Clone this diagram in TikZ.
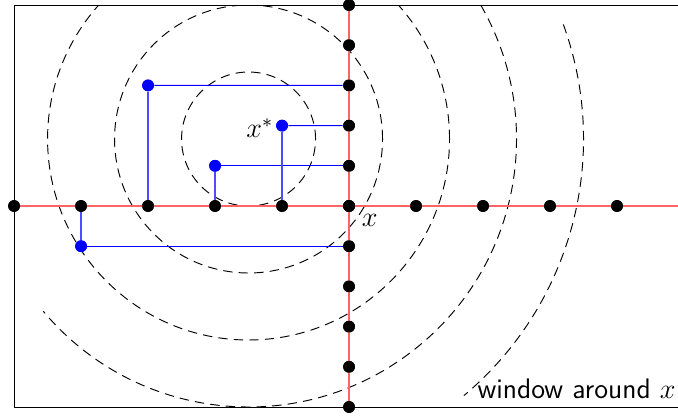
\documentclass[tikz,border=0pt]{standalone}
\usepackage{xcolor}
\usepackage{tikz}
\usetikzlibrary{positioning, calc}
\definecolor{axisred}{RGB}{255, 100, 100}
\definecolor{walkblue}{RGB}{0, 0, 255}
\definecolor{lightwalk}{RGB}{77, 77, 255}

\begin{document}
\begin{tikzpicture}[
  dot/.style={circle, fill=black, inner sep=0pt, minimum size=5pt},
  bluedot/.style={circle, fill=walkblue, inner sep=0pt, minimum size=5pt},
  axis/.style={draw=axisred, line width=0.7pt},
  level/.style={draw=black, dash pattern=on 4pt off 2.6pt},
  hwalk/.style={draw=walkblue, line width=0.45pt},
  vwalk/.style={draw=lightwalk, line width=0.6pt}
]
  \useasboundingbox (-5.21,-3.134) rectangle (4.91,3.075);

  % window
  \draw (-5,-3) rectangle (5,3);
  \coordinate (c) at (-1.5,1);
  \coordinate (east) at (5,0);
  \coordinate (corner) at (5,-3);

  % level sets around x*
  \begin{scope}
    \clip (-5,-3) rectangle (5,3);
    \draw[level] (c) circle (1);
    \draw[level] (c) circle (2);
    \draw[level] (c) circle (3);
    \draw[level] ($(c)+(40:4)$) arc[start angle=40, end angle=-140, radius=4];
    \draw[level] ($(c)+(20:5)$) arc[start angle=20, end angle=-50, radius=5];
  \end{scope}

  % coordinate axes through x
  \foreach \i in {-5,...,4}
    \node[dot] (h\i) at (\i,0) {};
  \foreach \j in {-5,...,5}
    \node[dot] (v\j) at (0,0.6*\j) {};

  % sampled points
  \node[bluedot] (p1) at (-3,1.8) {};
  \node[bluedot] (xs) at (-1,1.2) {};
  \node[bluedot] (p3) at (-2,0.6) {};
  \node[bluedot] (p4) at (-4,-0.6) {};

  \path[hwalk] (p1) -- (v3);
  \path[hwalk] (xs) -- (v2);
  \path[hwalk] (p3) -- (v1);
  \path[hwalk] (p4) -- (v-1);
  \path[vwalk] (p1) -- (h-3);
  \path[vwalk] (xs) -- (h-1);
  \path[vwalk] (p3) -- (h-2);
  \path[vwalk] (p4) -- (h-4);

  \path[axis] (h-5) -- (east);
  \path[axis] (v-5) -- (v5);

  % redraw dots on top
  \foreach \i in {-5,...,4}
    \node[dot] at (h\i) {};
  \foreach \j in {-5,...,5}
    \node[dot] at (v\j) {};
  \foreach \p in {p1,xs,p3,p4}
    \node[bluedot] at (\p) {};

  \node[left=-2.5pt of xs, yshift=-1pt] {\large $x^*$};
  \node[below right=-2pt and 0pt of v0] {\large $x$};
  \node[anchor=south east, font=\large\sffamily] at (corner) {window around $x$};

\end{tikzpicture}
\end{document}
